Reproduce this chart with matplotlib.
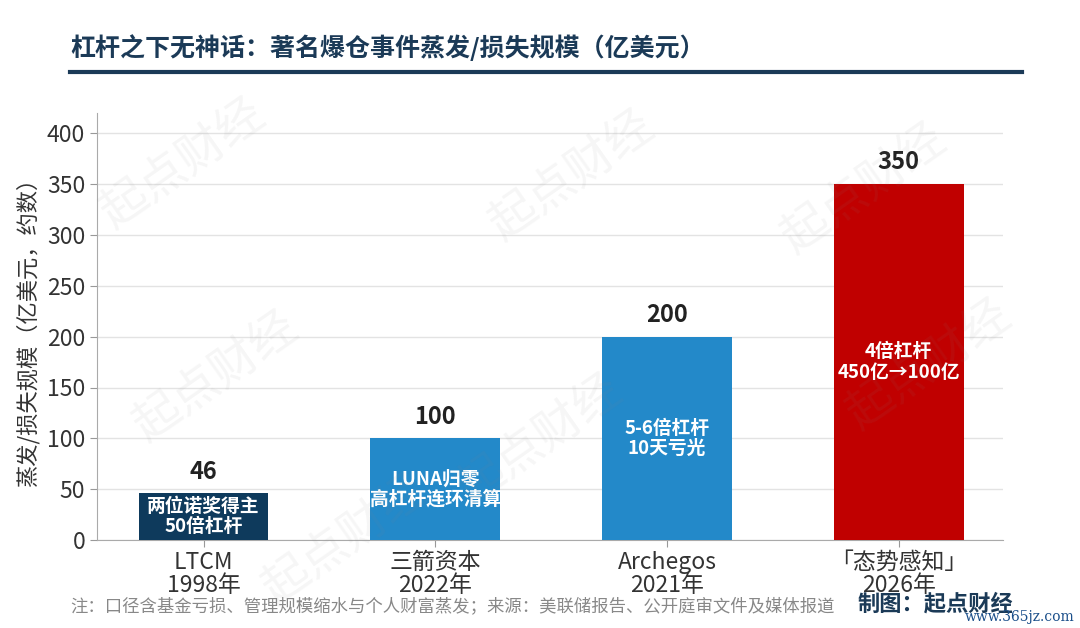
import matplotlib
matplotlib.use("Agg")
import matplotlib.pyplot as plt

plt.rcParams['font.family'] = ['Noto Sans CJK SC', 'DejaVu Sans']

# => DATA
categories = ["LTCM\n1998年", "三箭资本\n2022年", "Archegos\n2021年", "「态势感知」\n2026年"]
values = [46, 100, 200, 350]
inner_notes = ["两位诺奖得主\n50倍杠杆", "LUNA归零\n高杠杆连环清算", "5-6倍杠杆\n10天亏光", "4倍杠杆\n450亿→100亿"]
bar_colors = ["#0e3a5c", "#2389c9", "#2389c9", "#c00000"]
yticks = [0, 50, 100, 150, 200, 250, 300, 350, 400]

title = "杠杆之下无神话：著名爆仓事件蒸发/损失规模（亿美元）"
ylabel = "蒸发/损失规模（亿美元，约数）"
footnote = "注：口径含基金亏损、管理规模缩水与个人财富蒸发；来源：美联储报告、公开庭审文件及媒体报道"
credit = "制图：起点财经"
site_mark = "www.365jz.com"

NAVY = "#1b3a57"

fig = plt.figure(figsize=(10.8, 6.28), dpi=100)
ax = fig.add_axes([97 / 1080, 88 / 628, 906 / 1080, 427 / 628])

x = range(len(values))
bars = ax.bar(x, values, width=0.56, color=bar_colors, zorder=3)

for xi, v, note in zip(x, values, inner_notes):
    ax.annotate(str(v), (xi, v), xytext=(0, 7), textcoords="offset points",
                ha="center", va="bottom", fontsize=17, fontweight="bold", color="#222222", zorder=5)
    ax.text(xi, v / 2, note, ha="center", va="center", fontsize=13.5, fontweight="bold",
            color="white", linespacing=1.1, zorder=5)

ax.set_xlim(-0.46, 3.45)
ax.set_ylim(0, 420)
ax.set_yticks(yticks)
ax.set_xticks(list(x))
ax.set_xticklabels(categories, fontsize=16.5, color="#333333", linespacing=1.0)
ax.tick_params(axis="y", labelsize=16.5, labelcolor="#333333", length=5, color="#999999")
ax.tick_params(axis="x", length=5, color="#999999", pad=3)
ax.set_ylabel(ylabel, fontsize=16, color="#333333", labelpad=5)

ax.grid(axis="y", color="#e3e3e3", linewidth=1, zorder=0)
for side in ["top", "right"]:
    ax.spines[side].set_visible(False)
for side in ["left", "bottom"]:
    ax.spines[side].set_color("#aaaaaa")

# => WATERMARKS
for wx, wy in [(0.17, 0.74), (0.53, 0.72), (0.80, 0.70), (0.20, 0.40),
               (0.50, 0.30), (0.86, 0.42), (0.32, 0.14)]:
    fig.text(wx, wy, "起点财经", fontsize=34, color="#888888", alpha=0.08,
             rotation=35, ha="center", va="center", zorder=0)

# => TITLE + RULE
fig.text(70 / 1080, 1 - 48 / 628, title, fontsize=18, fontweight="bold", color=NAVY,
         ha="left", va="center")
fig.add_artist(plt.Line2D([70 / 1080, 1022 / 1080], [1 - 72 / 628, 1 - 72 / 628],
                          color=NAVY, linewidth=3))

# => FOOTER
fig.text(70 / 1080, 1 - 606 / 628, footnote, fontsize=12.5, color="#888888",
         ha="left", va="center")
fig.text(858 / 1080, 1 - 604 / 628, credit, fontsize=16, fontweight="bold", color=NAVY,
         ha="left", va="center")
fig.text(1075 / 1080, 1 - 617 / 628, site_mark, fontsize=10, color="#1b4f8a",
         family="DejaVu Serif", ha="right", va="center")

fig.savefig("out.png", dpi=100, facecolor="white")
